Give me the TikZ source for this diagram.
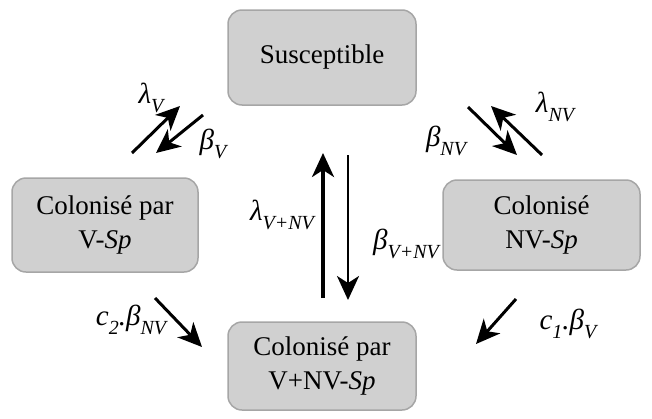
\documentclass[tikz,border=0pt]{standalone}
\usepackage{fontspec}
\setmainfont{Liberation Serif}
\newfontfamily\tnr{Liberation Serif}
\usetikzlibrary{arrows.meta}
\definecolor{boxfill}{HTML}{D0D0D0}
\definecolor{boxline}{HTML}{A6A6A6}
\newcommand\sbs[1]{\raisebox{-0.3em}{\fontsize{20}{20}\selectfont\itshape #1}}
\begin{document}
\begin{tikzpicture}[x=1pt,y=-1pt,
 box/.style={draw=boxline, fill=boxfill, line width=1.5pt, rounded corners=14pt, align=center, font=\tnr\fontsize{27}{34}\selectfont, inner sep=0pt},
 arr/.style={line width=3pt, -{Stealth[length=24pt,width=22pt,inset=7pt]}},
 lab/.style={font=\tnr\fontsize{29}{30}\selectfont\itshape, inner sep=0pt}]
\useasboundingbox (0,0) rectangle (652,418);
\node[box, minimum width=188pt, minimum height=95pt] (S) at (322,57.5) {Susceptible};
\node[box, minimum width=186pt, minimum height=94pt] (A) at (105,225) {Colonisé par\\V-\textit{Sp}};
\node[box, minimum width=197pt, minimum height=90pt] (B) at (541.5,225) {Colonisé\\NV-\textit{Sp}};
\node[box, minimum width=188pt, minimum height=88pt] (C) at (322,366) {Colonisé par\\V+NV-\textit{Sp}};
% arrow end points
\coordinate (a1) at (132,153); \coordinate (a2) at (180,106);
\coordinate (b1) at (203,115); \coordinate (b2) at (156,153);
\coordinate (c1) at (468,107); \coordinate (c2) at (517,155);
\coordinate (d1) at (542,155); \coordinate (d2) at (491,106);
\coordinate (e1) at (323,298); \coordinate (e2) at (323,153);
\coordinate (f1) at (348,155); \coordinate (f2) at (348,300);
\coordinate (g1) at (155,298); \coordinate (g2) at (202,347);
\coordinate (h1) at (516,299); \coordinate (h2) at (476,344);
\draw[arr] (a1) -- (a2);
\draw[arr] (b1) -- (b2);
\draw[arr] (c1) -- (c2);
\draw[arr] (d1) -- (d2);
\draw[arr, line width=3.5pt] (e1) -- (e2);
\draw[arr, line width=2.5pt] (f1) -- (f2);
\draw[arr] (g1) -- (g2);
\draw[arr] (h1) -- (h2);
% labels
\node[lab] (l1) at (151,98) {λ\sbs{V}};
\node[lab] (l2) at (213,144) {β\sbs{V}};
\node[lab] (l3) at (446,141) {β\sbs{NV}};
\node[lab] (l4) at (555,107) {λ\sbs{NV}};
\node[lab] (l5) at (282,215) {λ\sbs{V+NV}};
\node[lab] (l6) at (406,244) {β\sbs{V+NV}};
\node[lab] (l7) at (131,320) {c\sbs{2}.β\sbs{NV}};
\node[lab] (l8) at (568,324) {c\sbs{1}.β\sbs{V}};
\end{tikzpicture}
\end{document}
